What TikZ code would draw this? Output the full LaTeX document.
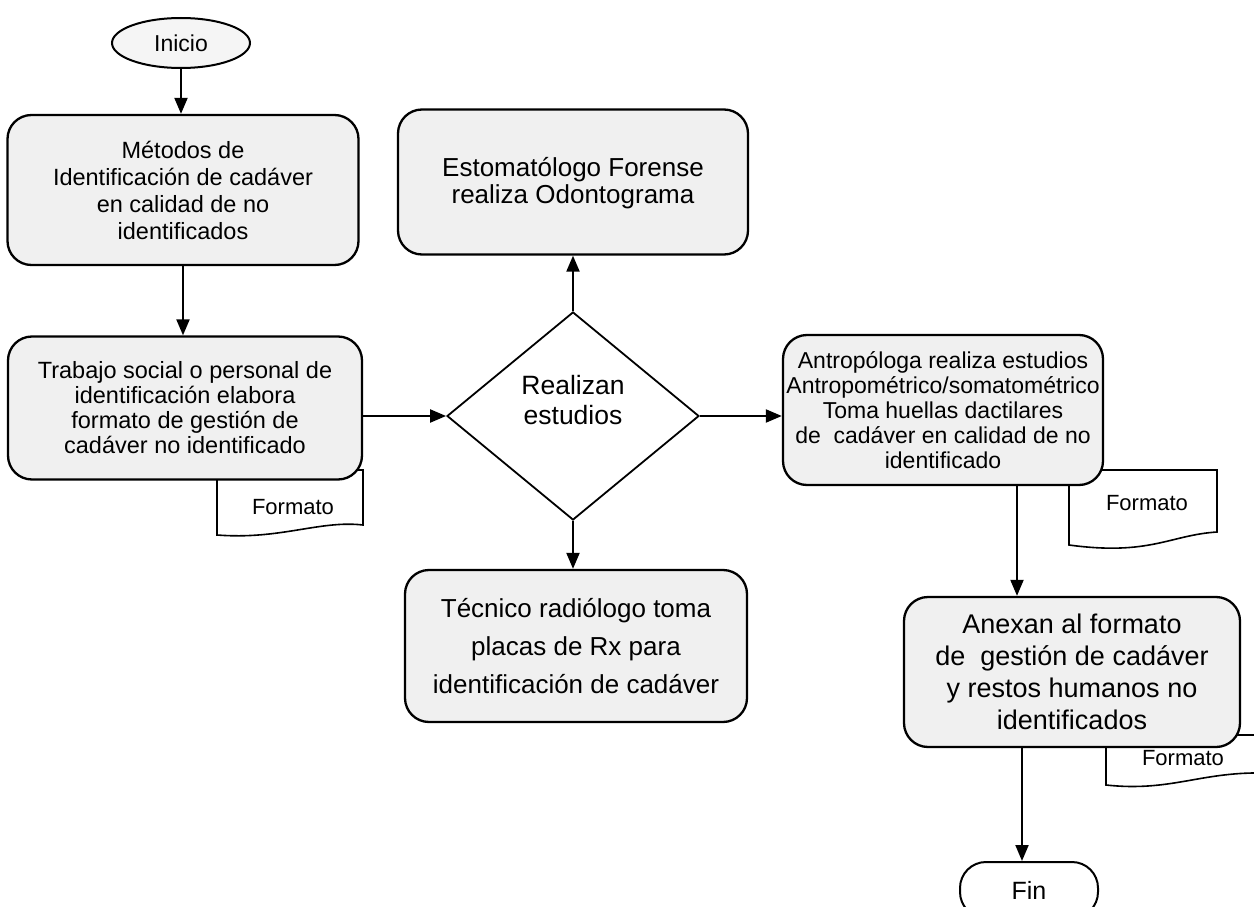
\documentclass[tikz,border=0pt]{standalone}
\usepackage{fontspec}
\setmainfont{Liberation Sans}
\usetikzlibrary{arrows.meta,shapes.geometric}
\begin{document}
\begin{tikzpicture}[x=1pt,y=-1pt,
  box/.style={draw=black,line width=2.3pt,rounded corners=24pt,fill=black!6,align=center,inner sep=0pt},
  docshape/.style={draw=black,line width=1.6pt,fill=white},
  doctext/.style={inner sep=0pt,font=\fontsize{22}{24}\selectfont},
  conn/.style={line width=2pt,-{Triangle[length=16pt,width=13pt]}},
  link/.style={line width=2pt}]
\useasboundingbox (0,0) rectangle (1254,907);
\fill[white] (0,0) rectangle (1254,907);
% documents (drawn first, boxes overlap them)
\draw[docshape] (217,470) -- (363,470) -- (363,525) .. controls (320,520) and (280,540) .. (217,535) -- cycle;
\node[doctext] (f1) at (293,507) {Formato};
\draw[docshape] (1069,470) -- (1217,470) -- (1217,532) .. controls (1170,535) and (1150,556) .. (1069,545) -- cycle;
\node[doctext] (f2) at (1147,503) {Formato};
\draw[docshape] (1106,735) -- (1262,735) -- (1262,773) .. controls (1200,772) and (1170,792) .. (1106,785) -- cycle;
\node[doctext] (f3) at (1183,758) {Formato};
% terminals
\node[draw=black,line width=2pt,ellipse,fill=black!4,minimum width=138pt,minimum height=50pt,inner sep=0pt,font=\fontsize{23}{25}\selectfont] (inicio) at (181,43) {Inicio};
\node[draw=black,line width=2pt,rounded corners=26pt,fill=white,minimum width=138pt,minimum height=56pt,inner sep=0pt,font=\fontsize{25}{27}\selectfont] (fin) at (1029,890) {Fin};
% process boxes
\node[box,minimum width=351pt,minimum height=150pt,font=\fontsize{23.5}{27}\selectfont] (metodos) at (183,190) {Métodos de\\Identificación de cadáver\\en calidad de no\\identificados};
\node[box,minimum width=354pt,minimum height=143pt,font=\fontsize{23.5}{25}\selectfont] (trabajo) at (185,408) {Trabajo social o personal de\\identificación elabora\\formato de gestión de\\cadáver no identificado};
\node[box,minimum width=350pt,minimum height=145pt,font=\fontsize{26}{27}\selectfont,text depth=4pt] (estoma) at (573,182) {Estomatólogo Forense\\realiza Odontograma};
\node[box,minimum width=342pt,minimum height=152pt,font=\fontsize{26}{38}\selectfont] (tecnico) at (576,646) {Técnico radiólogo toma\\placas de Rx para\\identificación de cadáver};
\node[box,minimum width=320pt,minimum height=150pt,font=\fontsize{23}{25}\selectfont] (antro) at (943,410) {Antropóloga realiza estudios\\Antropométrico/somatométrico\\Toma huellas dactilares\\de~~cadáver en calidad de no\\identificado};
\node[box,minimum width=336pt,minimum height=150pt,font=\fontsize{27}{32}\selectfont] (anexan) at (1072,672) {Anexan al formato\\de~~gestión de cadáver\\y restos humanos no\\identificados};
% decision
\node[draw=black,line width=1.8pt,diamond,fill=white,minimum width=252pt,minimum height=208pt,inner sep=0pt] (dec) at (573,416) {};
\node[align=center,inner sep=0pt,font=\fontsize{26.5}{30}\selectfont] (dectext) at (573,400) {Realizan\\estudios};
% connectors
\draw[conn] (inicio.south) -- (metodos.north -| inicio.south);
\draw[conn] (metodos.south) -- (trabajo.north -| metodos.south);
\draw[conn] (trabajo.east |- dec.west) -- (dec.west);
\draw[conn] (dec.north) -- (estoma.south);
\draw[conn] (dec.south) -- (tecnico.north -| dec.south);
\draw[conn] (dec.east) -- (antro.west |- dec.east);
\coordinate (a1) at (1017,485);
\coordinate (a2) at (1022,747);
\draw[conn] (a1) -- (a1 |- anexan.north);
\draw[conn] (a2) -- (a2 |- fin.north);
\end{tikzpicture}
\end{document}
